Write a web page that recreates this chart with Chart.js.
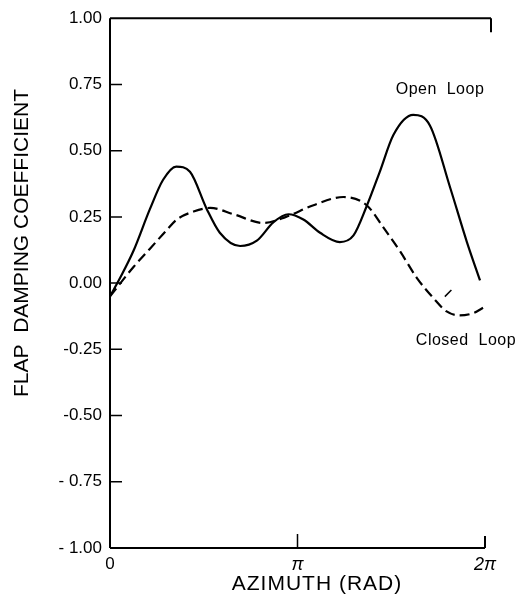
<!DOCTYPE html>
<html>
<head>
<meta charset="utf-8">
<script src="https://cdn.jsdelivr.net/npm/chart.js@4"></script>
<style>
  html, body { margin: 0; padding: 0; background: #fff; }
  #wrap { width: 531px; height: 607px; }
</style>
</head>
<body>
<div id="wrap"><canvas id="dampChart" width="531" height="607"></canvas></div>
<script>
// Data (azimuth in rad)
const azOpen = [0, 0.17, 0.39, 0.67, 0.89, 1.11, 1.34, 1.62, 1.84, 2.18, 2.46, 2.74, 2.99, 3.24, 3.52, 3.85, 4.08, 4.30, 4.52, 4.75, 5.08, 5.36, 5.70, 5.98, 6.20];
const openLoop = [-0.05, 0.02, 0.12, 0.28, 0.39, 0.44, 0.42, 0.28, 0.19, 0.14, 0.16, 0.23, 0.26, 0.24, 0.19, 0.155, 0.18, 0.29, 0.42, 0.56, 0.635, 0.595, 0.36, 0.155, 0.01];

const azClosed = [0, 0.39, 0.67, 0.95, 1.12, 1.40, 1.68, 2.07, 2.57, 2.95, 3.41, 3.91, 4.30, 4.58, 4.86, 5.14, 5.42, 5.64, 5.86, 6.09, 6.26];
const closedLoop = [-0.05, 0.06, 0.13, 0.20, 0.24, 0.27, 0.284, 0.26, 0.227, 0.25, 0.294, 0.325, 0.294, 0.21, 0.12, 0.02, -0.057, -0.107, -0.122, -0.113, -0.092];

// little leader stroke pointing at "Closed Loop"
const leaderAz = [5.61, 5.72];
const leaderVal = [-0.051, -0.026];

const xTicks = [0, Math.PI, 2 * Math.PI];
const xTickLabels = ["0", "\u03c0", "2\u03c0"];
const yTickLabels = { "1": "1.00", "0.75": "0.75", "0.5": "0.50", "0.25": "0.25", "0": "0.00",
  "-0.25": "-0.25", "-0.5": "-0.50", "-0.75": "- 0.75", "-1": "- 1.00" };

const FONT = "'Liberation Sans', Arial, sans-serif";

function pts(xs, ys) {
  return xs.map((x, i) => ({ x: x, y: ys[i] }));
}

// frame, inner ticks, titles and curve labels
const decor = {
  id: "decor",
  afterDraw(chart) {
    let c = chart.ctx;
    let a = chart.chartArea;
    let xs = chart.scales.x, ys = chart.scales.y;
    c.save();
    c.strokeStyle = "#000";
    c.lineWidth = 2;
    c.beginPath();
    c.moveTo(a.left, a.bottom); c.lineTo(a.left, a.top);
    c.moveTo(a.left, a.top); c.lineTo(a.right + 6, a.top);
    c.moveTo(a.right + 6, a.top); c.lineTo(a.right + 6, a.top + 14);
    c.moveTo(a.left, a.bottom); c.lineTo(a.right, a.bottom);
    c.moveTo(a.right, a.bottom); c.lineTo(a.right, a.bottom - 12);
    c.stroke();

    // inward ticks
    c.lineWidth = 1.5;
    c.beginPath();
    ys.ticks.forEach(t => {
      if (t.value === 1 || t.value === -1) return;
      let y = ys.getPixelForValue(t.value);
      c.moveTo(a.left, y); c.lineTo(a.left + 12, y);
    });
    let px = xs.getPixelForValue(Math.PI);
    c.moveTo(px, a.bottom); c.lineTo(px, a.bottom - 14);
    c.stroke();

    // axis titles
    c.fillStyle = "#000";
    c.textAlign = "center";
    c.textBaseline = "middle";
    c.font = "21px " + FONT;
    c.letterSpacing = "1px";
    c.fillText("AZIMUTH (RAD)", 317, 584);
    c.save();
    c.translate(22, 243);
    c.rotate(-Math.PI / 2);
    c.letterSpacing = "0px";
    c.fillText("FLAP  DAMPING COEFFICIENT", 0, 0);
    c.restore();

    // curve labels
    c.letterSpacing = "0.5px";
    c.font = "16px " + FONT;
    c.fillText("Open  Loop", 440, 90);
    c.fillText("Closed  Loop", 466, 341);
    c.restore();
  }
};

let ctx = document.getElementById("dampChart").getContext("2d");
let dampChart = new Chart(ctx, {
  type: "line",
  data: {
    datasets: [
      {
        label: "Open Loop",
        data: pts(azOpen, openLoop),
        borderColor: "#000",
        borderWidth: 2.2,
        pointRadius: 0,
        cubicInterpolationMode: "monotone",
        fill: false
      },
      {
        label: "Closed Loop",
        data: pts(azClosed, closedLoop),
        borderColor: "#000",
        borderWidth: 2.2,
        borderDash: [10, 5],
        pointRadius: 0,
        cubicInterpolationMode: "monotone",
        fill: false
      },
      {
        label: "leader",
        data: pts(leaderAz, leaderVal),
        borderColor: "#000",
        borderWidth: 1.5,
        pointRadius: 0,
        fill: false
      }
    ]
  },
  options: {
    responsive: false,
    animation: false,
    layout: { padding: { left: 0, right: 46, top: 15, bottom: 0 } },
    plugins: { legend: { display: false }, tooltip: { enabled: false } },
    scales: {
      x: {
        type: "linear",
        min: 0,
        max: 2 * Math.PI,
        grid: { display: false, drawTicks: false },
        border: { display: false },
        afterBuildTicks: s => { s.ticks = xTicks.map(v => ({ value: v })); },
        afterFit: s => { s.height = 59; },
        ticks: {
          color: "#000",
          padding: 6,
          maxRotation: 0,
          autoSkip: false,
          font: c => (c.index > 0 ? { family: FONT, size: 18, style: "italic" } : { family: FONT, size: 17 }),
          callback: (v, i) => xTickLabels[i]
        }
      },
      y: {
        min: -1,
        max: 1,
        grid: { display: false, drawTicks: false },
        border: { display: false },
        afterFit: s => { s.width = 110; },
        ticks: {
          stepSize: 0.25,
          color: "#000",
          padding: 8,
          font: { family: FONT, size: 17 },
          callback: v => yTickLabels[String(v)]
        }
      }
    }
  },
  plugins: [decor]
});
</script>
</body>
</html>
